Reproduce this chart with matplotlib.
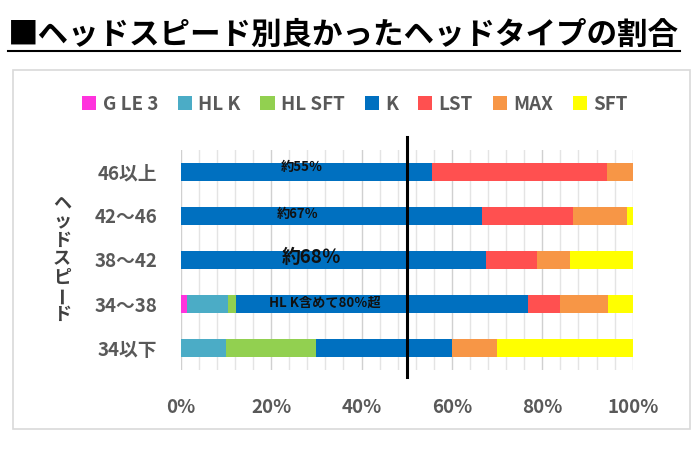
import matplotlib
matplotlib.use("Agg")
import matplotlib.pyplot as plt
from matplotlib.lines import Line2D
from matplotlib.patches import Rectangle
from matplotlib.ticker import MultipleLocator, PercentFormatter
import numpy as np

plt.rcParams['font.family'] = ['Noto Sans CJK JP', 'DejaVu Sans']

# ------------------------------
# data (percent of players)
# ------------------------------
speeds = ['46以上', '42～46', '38～42', '34～38', '34以下']
head_types = ['G LE 3', 'HL K', 'HL SFT', 'K', 'LST', 'MAX', 'SFT']
g_le3 = [0, 0, 0, 1.5, 0]
hl_k = [0, 0, 0, 8.9, 10]
hl_sft = [0, 0, 0, 1.8, 20]
k = [55.5, 66.6, 67.5, 64.6, 30]
lst = [38.9, 20.1, 11.3, 7.1, 0]
max_ = [5.6, 12.1, 7.3, 10.7, 10]
sft = [0, 1.2, 13.9, 5.4, 30]
colors = ['#FF33DD', '#4BACC6', '#92D050', '#0070C0', '#FF5050', '#F79646', '#FFFF00']

notes = ['約55％', '約67％', '約68％', 'HL K含めて80％超']

title = '■ヘッドスピード別良かったヘッドタイプの割合'
ylabel = 'ヘッドスピード'

# ------------------------------
# figure
# ------------------------------
fig = plt.figure(figsize=(7, 4.53), dpi=100)
ax = fig.add_axes([180.7 / 700, 1 - 370 / 453, 452 / 700, 220 / 453])

y = np.arange(len(speeds))
left = np.zeros(len(speeds))
for name, vals, c in zip(head_types, [g_le3, hl_k, hl_sft, k, lst, max_, sft], colors):
    ax.barh(y, vals, left=left, height=0.41, color=c, label=name, zorder=2)
    left += np.array(vals)

ax.set_xlim(0, 100)
ax.set_ylim(len(speeds) - 0.5, -0.5)
ax.set_yticks(y)
ax.set_yticklabels(speeds)
ax.xaxis.set_major_locator(MultipleLocator(20))
ax.xaxis.set_minor_locator(MultipleLocator(4))
ax.xaxis.set_major_formatter(PercentFormatter(decimals=0))
ax.grid(axis='x', which='major', color='#d0d0d0', lw=1, zorder=0)
ax.grid(axis='x', which='minor', color='#e4e4e4', lw=1, zorder=0)
ax.tick_params(axis='both', which='both', length=0, labelsize=13.5, labelcolor='#595959')
ax.tick_params(axis='x', pad=20)
ax.tick_params(axis='y', pad=17)
for lab in ax.get_xticklabels() + ax.get_yticklabels():
    lab.set_fontweight('bold')
for s in ax.spines.values():
    s.set_visible(False)

# 50% line
ax.axvline(50, ymin=-0.03, ymax=1.06, color='black', lw=2.2, clip_on=False, zorder=5)

# notes on the K bars
ax.text(26.8, -0.12, notes[0], ha='center', va='center', fontsize=9.5, fontweight='bold', color='#111111', zorder=4)
ax.text(25.9, 0.95, notes[1], ha='center', va='center', fontsize=9.5, fontweight='bold', color='#111111', zorder=4)
ax.text(29, 1.95, notes[2], ha='center', va='center', fontsize=13.5, fontweight='bold', color='#111111', zorder=4)
ax.text(32, 2.97, notes[3], ha='center', va='center', fontsize=9.5, fontweight='bold', color='#111111', zorder=4)

# vertical axis title, one character per line
y0 = 1 - 203 / 453
for i, ch in enumerate(ylabel):
    fig.text(62 / 700, y0 - i * 18.5 / 453, ch, ha='center', va='center', fontsize=13,
             fontweight='bold', color='#404040', rotation=90 if ch == 'ー' else 0)

# legend
leg = fig.legend(loc='center', bbox_to_anchor=(355 / 700, 1 - 104 / 453), ncol=7, frameon=False,
                 handlelength=0.75, handleheight=0.75, handletextpad=0.35, columnspacing=1.05,
                 prop={'size': 13.5, 'weight': 'bold'})
for t in leg.get_texts():
    t.set_color('#595959')

# title with underline
fig.text(8 / 700, 1 - 35 / 453, title, ha='left', va='center', fontsize=22, fontweight='bold', color='black')
fig.add_artist(Line2D([8 / 700, 680 / 700], [1 - 51 / 453] * 2, color='black', lw=1.5))

# chart frame
fig.add_artist(Rectangle((13 / 700, 1 - 429 / 453), 677 / 700, 359 / 453, fill=False,
                         edgecolor='#d9d9d9', lw=1.2))

fig.savefig('out.png', dpi=100)
